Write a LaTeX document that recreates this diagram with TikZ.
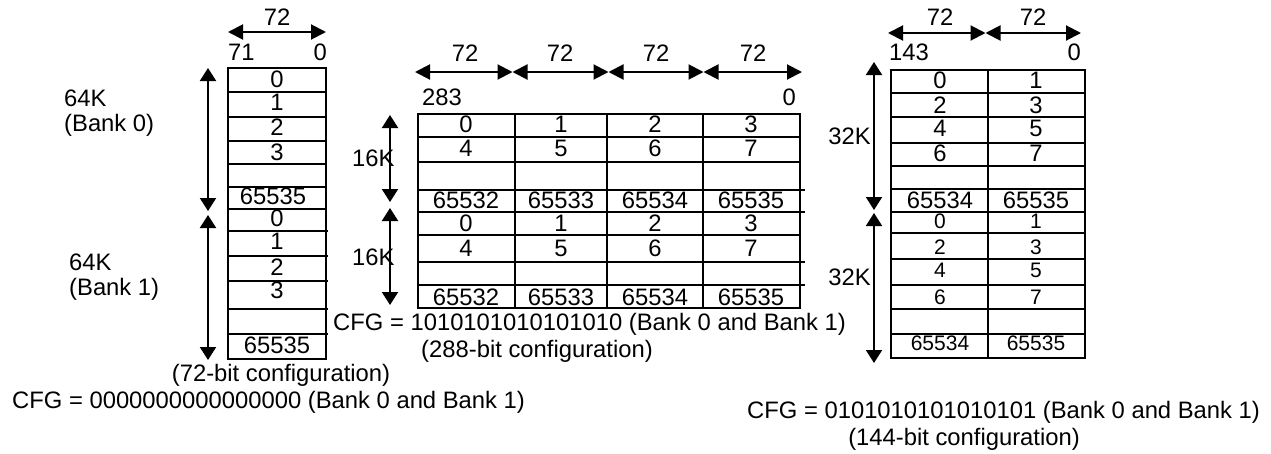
\documentclass[tikz,border=0pt]{standalone}
\usepackage{fontspec}
\setmainfont{Liberation Sans}
\usetikzlibrary{arrows.meta}
\newcommand\myfs{\fontsize{23.8}{28}\selectfont}
\newcommand\mysm{\fontsize{21}{25}\selectfont}
\tikzset{
  gridline/.style={line width=2.3pt},
  dimarrow/.style={line width=2pt,{Triangle[width=15pt,length=15pt]}-{Triangle[width=15pt,length=15pt]}},
  varrow/.style={line width=2pt,{Triangle[width=16pt,length=13pt]}-{Triangle[width=16pt,length=13pt]}},
  lbl/.style={anchor=base,inner sep=0pt,font=\myfs},
  lblw/.style={anchor=base west,inner sep=0pt,font=\myfs},
  lble/.style={anchor=base east,inner sep=0pt,font=\myfs},
  lbls/.style={anchor=base,inner sep=0pt,font=\mysm},
}
\begin{document}
\begin{tikzpicture}[x=1pt,y=-1pt]
\useasboundingbox (0,0) rectangle (1271,453);

% ================= Left: 72-bit =================
\coordinate (lh1) at (228,32);
\coordinate (lh2) at (326,32);
\draw[dimarrow] (lh1) -- (lh2);
\node[lbl] (l72) at (277,25) {72};
\node[lblw] (l71) at (228,60) {71};
\node[lble] (l0) at (327,60) {0};

\draw[gridline] (228,68) rectangle (326,359);
\foreach \y in {92,117,141,164,187} \draw[gridline] (228,\y) -- (326,\y);
\draw[gridline] (228,209) -- (326,209);
\foreach \y in {231,256,281,309,334} \draw[gridline] (228,\y) -- (328,\y);

\foreach \t/\y [count=\i] in {0/87,1/110,2/135,3/160} \node[lbl] (lA\i) at (277,\y) {\t};
\node[lbl] (lA5) at (273,204) {65535};
\foreach \t/\y [count=\i] in {0/226.5,1/249.5,2/275,3/298} \node[lbl] (lB\i) at (277,\y) {\t};
\node[lbl] (lB5) at (277,353) {65535};

\coordinate (lv1) at (208,68);
\coordinate (lv2) at (208,211);
\coordinate (lv3) at (208,215);
\coordinate (lv4) at (208,360);
\draw[varrow] (lv1) -- (lv2);
\draw[varrow] (lv3) -- (lv4);

\node[lblw] (lk0) at (64,106) {64K};
\node[lblw] (lb0) at (64,131) {(Bank 0)};
\node[lblw] (lk1) at (69,270) {64K};
\node[lblw] (lb1) at (69,295) {(Bank 1)};

\node[lbl] (lconf) at (281,381) {(72-bit configuration)};
\node[lblw] (lcfg) at (12,408) {CFG = 0000000000000000 (Bank 0 and Bank 1)};

% ================= Middle: 288-bit =================
\coordinate (mh0) at (415,72);
\coordinate (mh1) at (512.5,72);
\coordinate (mh2) at (608.5,72);
\coordinate (mh3) at (703.5,72);
\coordinate (mh4) at (802,72);
\draw[dimarrow] (mh0) -- (mh1);
\draw[dimarrow] (mh1) -- (mh2);
\draw[dimarrow] (mh2) -- (mh3);
\draw[dimarrow] (mh3) -- (mh4);
\foreach \x [count=\i] in {465,560,656,753} \node[lbl] (m72\i) at (\x,61) {72};
\node[lblw] (m283) at (422,105) {283};
\node[lble] (m0) at (796,105) {0};

\draw[gridline] (418,114) rectangle (800,308);
\foreach \x in {515,607,703} \draw[gridline] (\x,114) -- (\x,308);
\foreach \y in {137,162,235} \draw[gridline] (418,\y) -- (800,\y);
\foreach \y in {190,212,262,285} \draw[gridline] (418,\y) -- (805,\y);

\foreach \x [count=\c] in {466,561,655,751} {
  \node[lbl] (mA1\c) at (\x,132) {\the\numexpr\c-1\relax};
  \node[lbl] (mA2\c) at (\x,156) {\the\numexpr\c+3\relax};
  \node[lbl] (mA3\c) at (\x,208) {\the\numexpr65531+\c\relax};
  \node[lbl] (mB1\c) at (\x,231) {\the\numexpr\c-1\relax};
  \node[lbl] (mB2\c) at (\x,256) {\the\numexpr\c+3\relax};
  \node[lbl] (mB3\c) at (\x,305) {\the\numexpr65531+\c\relax};
}

\coordinate (mv1) at (390,115);
\coordinate (mv2) at (390,202);
\coordinate (mv3) at (390,208);
\coordinate (mv4) at (390,305);
\draw[varrow] (mv1) -- (mv2);
\draw[varrow] (mv3) -- (mv4);
\node[lblw] (mk0) at (352,166) {16K};
\node[lblw] (mk1) at (352,265) {16K};

\node[lblw] (mcfg) at (333,330) {CFG = 1010101010101010 (Bank 0 and Bank 1)};
\node[lbl] (mconf) at (537,357) {(288-bit configuration)};

% ================= Right: 144-bit =================
\coordinate (rh0) at (888,33);
\coordinate (rh1) at (985.5,33);
\coordinate (rh2) at (1081,33);
\draw[dimarrow] (rh0) -- (rh1);
\draw[dimarrow] (rh1) -- (rh2);
\node[lbl] (r72a) at (940,25) {72};
\node[lbl] (r72b) at (1033,25) {72};
\node[lblw] (r143) at (889,60) {143};
\node[lble] (r0) at (1081,60) {0};

\draw[gridline] (891,70) rectangle (1085,358);
\draw[gridline] (988,70) -- (988,358);
\foreach \y in {93,117,143,166,189,212,233,259,285,309,334} \draw[gridline] (891,\y) -- (1085,\y);

\foreach \l/\r/\y [count=\i] in {0/1/88,2/3/113,4/5/136,6/7/161,65534/65535/208} {
  \node[lbl] (rAl\i) at (940,\y) {\l};
  \node[lbl] (rAr\i) at (1036,\y) {\r};
}
\foreach \l/\r/\y [count=\i] in {0/1/228,2/3/254,4/5/277,6/7/304,65534/65535/350} {
  \node[lbls] (rBl\i) at (940,\y) {\l};
  \node[lbls] (rBr\i) at (1036,\y) {\r};
}

\coordinate (rv1) at (874,62);
\coordinate (rv2) at (874,210);
\coordinate (rv3) at (874,213);
\coordinate (rv4) at (874,363);
\draw[varrow] (rv1) -- (rv2);
\draw[varrow] (rv3) -- (rv4);
\node[lble] (rk0) at (871,144) {32K};
\node[lble] (rk1) at (871,285) {32K};

\node[lblw] (rcfg) at (747,418) {CFG = 0101010101010101 (Bank 0 and Bank 1)};
\node[lbl] (rconf) at (964,445) {(144-bit configuration)};
\end{tikzpicture}
\end{document}
